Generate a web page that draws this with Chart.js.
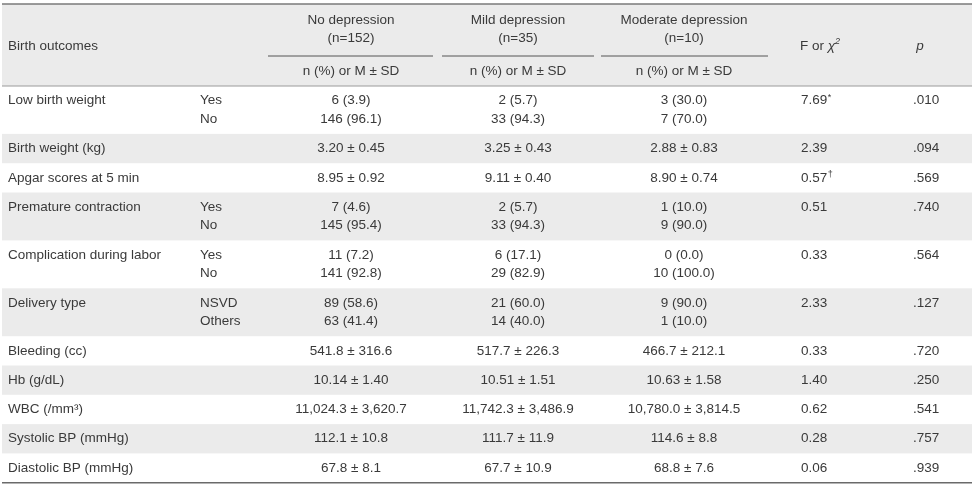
<!DOCTYPE html>
<html>
<head>
<meta charset="utf-8">
<script src="https://cdn.jsdelivr.net/npm/chart.js@4"></script>
<style>
  html, body { margin: 0; padding: 0; background: #fff; }
  #wrap { width: 975px; height: 487px; }
</style>
</head>
<body>
<div id="wrap"><canvas id="tableChart" width="975" height="487"></canvas></div>
<script>
// ===== table content =====
const groups = ["No depression", "Mild depression", "Moderate depression"];
const groupN = ["(n=152)", "(n=35)", "(n=10)"];
const statLabel = "n (%) or M \u00b1 SD";

const outcomes = [
  "Low birth weight", "Birth weight (kg)", "Apgar scores at 5 min", "Premature contraction",
  "Complication during labor", "Delivery type", "Bleeding (cc)", "Hb (g/dL)",
  "WBC (/mm\u00b3)", "Systolic BP (mmHg)", "Diastolic BP (mmHg)"
];
const levels = [
  ["Yes", "No"], [], [], ["Yes", "No"], ["Yes", "No"], ["NSVD", "Others"], [], [], [], [], []
];
const noDepression = [
  ["6 (3.9)", "146 (96.1)"], ["3.20 \u00b1 0.45"], ["8.95 \u00b1 0.92"], ["7 (4.6)", "145 (95.4)"],
  ["11 (7.2)", "141 (92.8)"], ["89 (58.6)", "63 (41.4)"], ["541.8 \u00b1 316.6"], ["10.14 \u00b1 1.40"],
  ["11,024.3 \u00b1 3,620.7"], ["112.1 \u00b1 10.8"], ["67.8 \u00b1 8.1"]
];
const mildDepression = [
  ["2 (5.7)", "33 (94.3)"], ["3.25 \u00b1 0.43"], ["9.11 \u00b1 0.40"], ["2 (5.7)", "33 (94.3)"],
  ["6 (17.1)", "29 (82.9)"], ["21 (60.0)", "14 (40.0)"], ["517.7 \u00b1 226.3"], ["10.51 \u00b1 1.51"],
  ["11,742.3 \u00b1 3,486.9"], ["111.7 \u00b1 11.9"], ["67.7 \u00b1 10.9"]
];
const moderateDepression = [
  ["3 (30.0)", "7 (70.0)"], ["2.88 \u00b1 0.83"], ["8.90 \u00b1 0.74"], ["1 (10.0)", "9 (90.0)"],
  ["0 (0.0)", "10 (100.0)"], ["9 (90.0)", "1 (10.0)"], ["466.7 \u00b1 212.1"], ["10.63 \u00b1 1.58"],
  ["10,780.0 \u00b1 3,814.5"], ["114.6 \u00b1 8.8"], ["68.8 \u00b1 7.6"]
];
const fValues = ["7.69*", "2.39", "0.57\u2020", "0.51", "0.33", "2.33", "0.33", "1.40", "0.62", "0.28", "0.06"];
const pValues = [".010", ".094", ".569", ".740", ".564", ".127", ".720", ".250", ".541", ".757", ".939"];

// ===== layout (in scale units, x/y scales span the canvas) =====
const FONT = "Liberation Sans, Arial, sans-serif";
const SIZE = 13.5;
const TEXT = "#3a3a3a";
const SHADE = "#ebebeb";
const LEFT = 2, RIGHT = 972, TOP = 4, HEAD_BOTTOM = 86;
const ROW1 = 29.3, STEP = 18.6;
const colCenters = [351, 518, 684];
const underline = [[268, 433], [442, 594], [601, 768]];
const labelX = 8, levelX = 200, fX = 801, pX = 913;

function font(italic, size) {
  return (italic ? "italic " : "") + (size || SIZE) + "px " + FONT;
}

function drawCell(ctx, str, px, py, align) {
  // trailing * or dagger drawn as superscript
  let mark = "";
  if (str.endsWith("*") || str.endsWith("\u2020")) {
    mark = str.slice(-1);
    str = str.slice(0, -1);
  }
  ctx.font = font(false);
  ctx.textAlign = align;
  ctx.fillText(str, px, py);
  if (mark) {
    const w = ctx.measureText(str).width;
    const start = align === "center" ? px + w / 2 : px + w;
    ctx.font = font(false, 9);
    ctx.textAlign = "left";
    ctx.fillText(mark, start + 0.5, py - 3);
  }
}

const tablePlugin = {
  id: "tablePlugin",
  beforeDraw(chart) {
    const { ctx } = chart;
    const sx = chart.scales.x, sy = chart.scales.y;
    const X = (v) => sx.getPixelForValue(v);
    const Y = (v) => sy.getPixelForValue(v);
    ctx.save();

    // header background
    ctx.fillStyle = SHADE;
    ctx.fillRect(X(LEFT), Y(TOP), X(RIGHT) - X(LEFT), Y(HEAD_BOTTOM) - Y(TOP));

    // body row tops
    const tops = [];
    let t = HEAD_BOTTOM;
    outcomes.forEach((o, i) => {
      const lines = Math.max(1, levels[i].length, noDepression[i].length);
      tops.push([t, lines]);
      t += ROW1 + (lines - 1) * STEP;
    });
    const bottom = t;

    tops.forEach(([top, lines], i) => {
      if (i % 2 === 1) {
        ctx.fillStyle = SHADE;
        ctx.fillRect(X(LEFT), Y(top), X(RIGHT) - X(LEFT), Y(top + ROW1 + (lines - 1) * STEP) - Y(top));
      }
    });

    // rules
    const hline = (yv, x0, x1, color, w) => {
      ctx.strokeStyle = color;
      ctx.lineWidth = w;
      ctx.beginPath();
      ctx.moveTo(X(x0), Y(yv));
      ctx.lineTo(X(x1), Y(yv));
      ctx.stroke();
    };
    hline(TOP, LEFT, RIGHT, "#7a7a7a", 1.5);
    hline(HEAD_BOTTOM, LEFT, RIGHT, "#9a9a9a", 1);
    underline.forEach(([a, b]) => hline(56, a, b, "#555", 1));
    hline(bottom, LEFT, RIGHT, "#6a6a6a", 1.5);

    // header text
    ctx.fillStyle = TEXT;
    ctx.textBaseline = "middle";
    ctx.font = font(false);
    ctx.textAlign = "left";
    ctx.fillText("Birth outcomes", X(labelX), Y(46));
    groups.forEach((g, i) => {
      ctx.textAlign = "center";
      ctx.font = font(false);
      ctx.fillText(g, X(colCenters[i]), Y(20));
      ctx.fillText(groupN[i], X(colCenters[i]), Y(38));
      ctx.fillText(statLabel, X(colCenters[i]), Y(71));
    });
    // F or chi-square
    ctx.textAlign = "left";
    ctx.font = font(false);
    const fPart = "F or ";
    ctx.fillText(fPart, X(fX - 1), Y(46));
    let hx = X(fX - 1) + ctx.measureText(fPart).width;
    ctx.font = font(true);
    ctx.fillText("\u03c7", hx, Y(46));
    hx += ctx.measureText("\u03c7").width;
    ctx.font = font(true, 9);
    ctx.fillText("2", hx, Y(41));
    ctx.font = font(true);
    ctx.textAlign = "center";
    ctx.fillText("p", X(920), Y(46));

    // body text
    tops.forEach(([top, lines], i) => {
      const ly = (k) => Y(top + ROW1 / 2 + k * STEP);
      ctx.fillStyle = TEXT;
      drawCell(ctx, outcomes[i], X(labelX), ly(0), "left");
      levels[i].forEach((lv, k) => drawCell(ctx, lv, X(levelX), ly(k), "left"));
      [noDepression, mildDepression, moderateDepression].forEach((col, c) => {
        col[i].forEach((v, k) => drawCell(ctx, v, X(colCenters[c]), ly(k), "center"));
      });
      drawCell(ctx, fValues[i], X(fX), ly(0), "left");
      drawCell(ctx, pValues[i], X(pX), ly(0), "left");
    });

    ctx.restore();
  }
};

new Chart(document.getElementById("tableChart"), {
  type: "scatter",
  data: { datasets: [{ data: [] }] },
  options: {
    responsive: false,
    animation: false,
    events: [],
    layout: { padding: 0 },
    plugins: { legend: { display: false }, tooltip: { enabled: false } },
    scales: {
      x: { type: "linear", min: 0, max: 975, display: false },
      y: { type: "linear", min: 0, max: 487, reverse: true, display: false }
    }
  },
  plugins: [tablePlugin]
});
</script>
</body>
</html>
